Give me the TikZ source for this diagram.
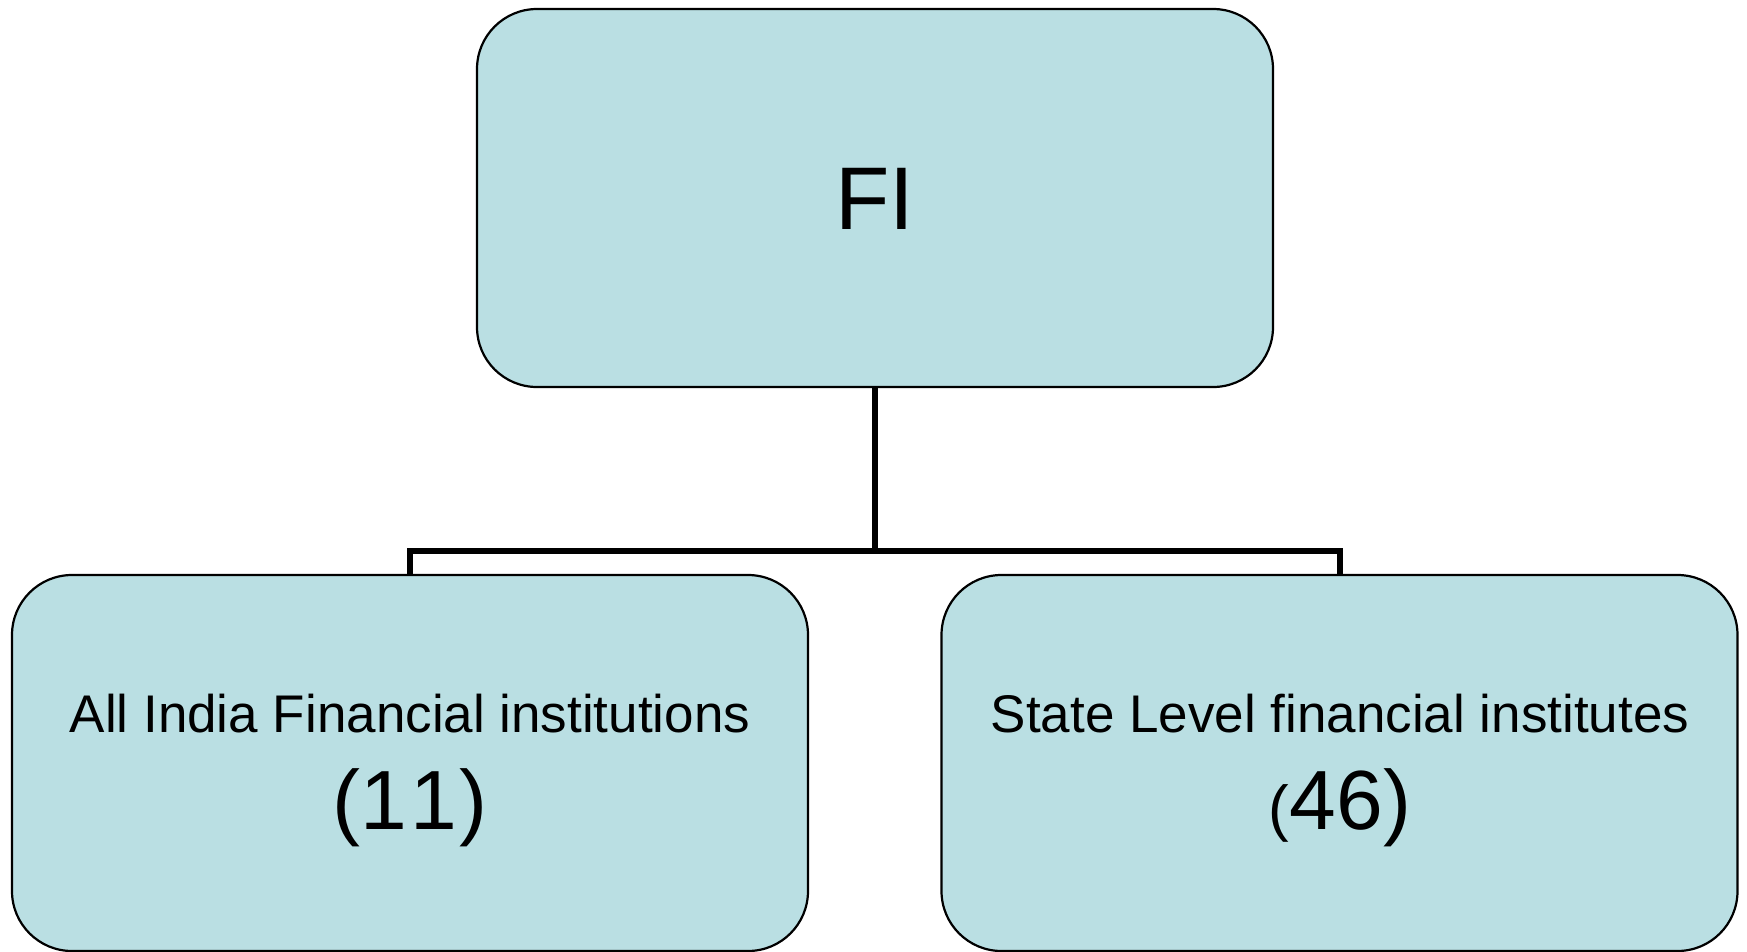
\documentclass[tikz,border=0pt]{standalone}
\usepackage{fontspec}
\setmainfont{Liberation Sans}
\definecolor{boxfill}{RGB}{186,223,227}
\begin{document}
\begin{tikzpicture}[x=1pt,y=-1pt,
  box/.style={draw=black, line width=2.2pt, fill=boxfill, rounded corners=60pt,
    minimum width=796pt, inner sep=0pt},
  conn/.style={draw=black, line width=6pt, line join=miter},
  lbl/.style={anchor=base, inner sep=0pt, font=\fontsize{53}{60}\selectfont},
  num/.style={anchor=base, inner sep=0pt, font=\fontsize{84}{90}\selectfont}]
\useasboundingbox (0,0) rectangle (1747,951);
\node[box, minimum height=378pt] (top) at (875,198) {};
\node[box, minimum height=376pt] (left) at (410,763) {};
\node[box, minimum height=376pt] (right) at (1339.5,763) {};
\node[anchor=center, inner sep=0pt, font=\fontsize{89}{95}\selectfont] (fi) at (875,199) {FI};
\node[lbl] (l1) at (410,732) {All India Financial institutions};
\node[num] (l2) at (410,829) {(1\kern3pt1\kern2pt)};
\node[lbl] (r1) at (1340,732) {State Level financial institutes};
\node[num] (r2) at (1340,829) {{\fontsize{62}{66}\selectfont(}46)};
\coordinate (j) at (875,551);
\draw[conn] (top.south) -- (j);
\draw[conn] (left.north) |- (j) -| (right.north);
\end{tikzpicture}
\end{document}
